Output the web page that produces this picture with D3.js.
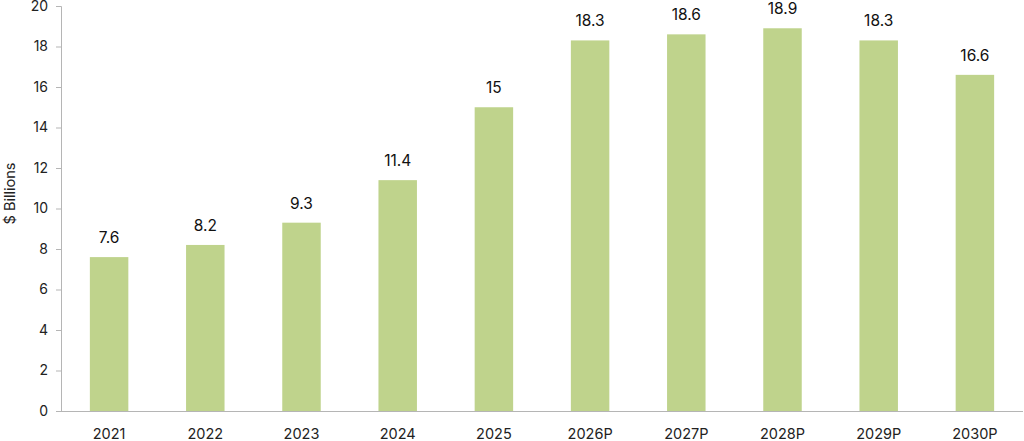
<!DOCTYPE html>
<html><head><meta charset="utf-8">
<script src="https://cdn.jsdelivr.net/npm/d3@7"></script>
<style>body{margin:0;background:#fff}svg{display:block}</style>
</head><body>
<svg id="c" width="1024" height="441"></svg>
<script>
const categories = ["2021","2022","2023","2024","2025","2026P","2027P","2028P","2029P","2030P"];
const values = [7.6, 8.2, 9.3, 11.4, 15, 18.3, 18.6, 18.9, 18.3, 16.6];
const yTicks = [0,2,4,6,8,10,12,14,16,18,20];
const yTitle = "$ Billions";

const svg = d3.select("#c");
const font = "Inter, 'Liberation Sans', Arial, sans-serif";
const m = {l:61, r:1, t:6, b:30};
const W = 1024, H = 441;
const x = d3.scaleBand().domain(categories).range([m.l, W - m.r]).paddingInner(0.6).paddingOuter(0.3);
const y = d3.scaleLinear().domain([0,20]).range([411, 6]);

svg.selectAll("rect.bar").data(values).join("rect")
  .attr("class","bar")
  .attr("x",(d,i)=>x(categories[i]))
  .attr("width",x.bandwidth())
  .attr("y",d=>y(d))
  .attr("height",d=>y(0)-y(d))
  .attr("fill","#bfd38c");

const ya = svg.append("g").attr("transform",`translate(${m.l},0)`)
  .call(d3.axisLeft(y).tickValues(yTicks).tickSize(5).tickPadding(8));
ya.select(".domain").attr("stroke","#b5b5b5");
ya.selectAll(".tick line").attr("stroke","#b5b5b5");
ya.selectAll(".tick text").attr("font-family",font).attr("font-size",14).attr("fill","#222");

const xa = svg.append("g").attr("transform",`translate(0,${y(0)})`)
  .call(d3.axisBottom(x).tickSize(0).tickPadding(18));
xa.select(".domain").attr("stroke","#b5b5b5").attr("d",`M${m.l},0.5H${W - m.r}`);
xa.selectAll(".tick text").attr("font-family",font).attr("font-size",14.5).attr("fill","#222");

svg.selectAll("text.val").data(values).join("text")
  .attr("class","val")
  .attr("x",(d,i)=>x(categories[i]) + x.bandwidth()/2)
  .attr("y",d=>y(d) - 14)
  .attr("text-anchor","middle")
  .attr("font-family",font).attr("font-size",15.5).attr("fill","#111")
  .text(d=>d);

svg.append("text")
  .attr("transform",`translate(15,${(y(0)+y(20))/2 - 15}) rotate(-90)`)
  .attr("text-anchor","middle")
  .attr("font-family",font).attr("font-size",14.5).attr("fill","#222")
  .text(yTitle);
</script>
</body></html>
